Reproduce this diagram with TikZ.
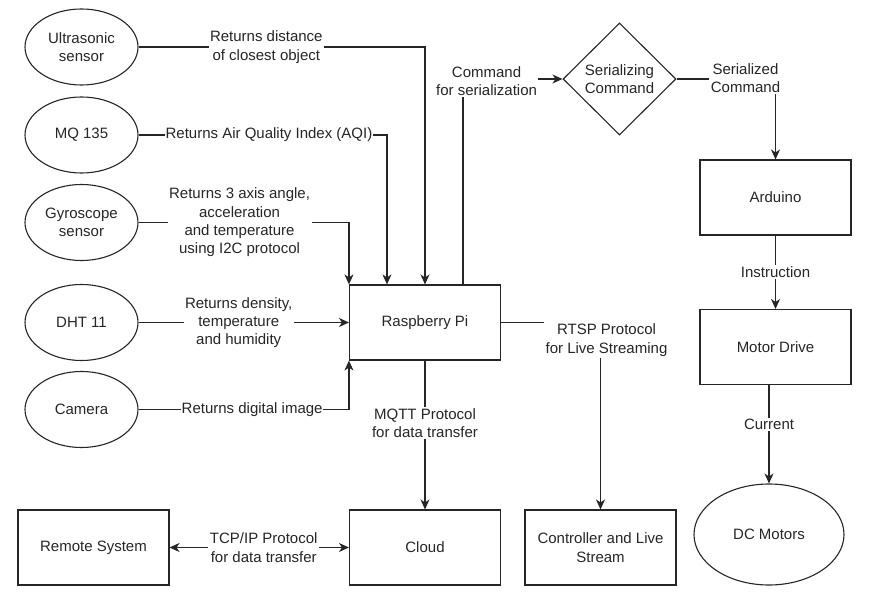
\documentclass[tikz,border=0pt]{standalone}
\usepackage{fontspec}
\setmainfont{Liberation Sans}
\usetikzlibrary{shapes.geometric,arrows.meta,calc}
\begin{document}
\begin{tikzpicture}[x=1pt,y=-1pt,
  every node/.style={font=\fontsize{15}{18.3}\selectfont, text=black!85, align=center},
  shp/.style={draw=black!85, line width=1.1pt, inner sep=0pt},
  ell/.style={shp, ellipse, minimum width=113pt, minimum height=76pt},
  box/.style={shp, rectangle, minimum width=151pt, minimum height=75pt},
  dia/.style={shp, diamond, minimum width=113pt, minimum height=112pt, aspect=1},
  conn/.style={line width=1.1pt, draw=black!85},
  arr/.style={conn, -{Stealth[length=10pt,width=9pt,inset=3pt]}},
  darr/.style={conn, {Stealth[length=10pt,width=9pt,inset=3pt]}-{Stealth[length=10pt,width=9pt,inset=3pt]}},
  lbl/.style={fill=white, inner sep=1.5pt}
]
\useasboundingbox (0,0) rectangle (875,612);

% sensors
\node[ell] (us)  at (81.5,47)    {Ultrasonic\\sensor};
\node[ell] (mq)  at (81.5,135)   {MQ 135};
\node[ell] (gy)  at (81.5,222.5) {Gyroscope\\sensor};
\node[ell] (dht) at (81.5,322.5) {DHT 11};
\node[ell] (cam) at (81.5,409.5) {Camera};

% main boxes
\node[box] (rp)   at (425,322.5)   {Raspberry Pi};
\node[box] (cl)   at (425,547.5)   {Cloud};
\node[box] (rs)   at (93.5,547.5)  {Remote System};
\node[box] (ctl)  at (600.5,547.5) {Controller and Live\\Stream};
\node[dia] (ser)  at (619.5,79)    {Serializing\\Command};
\node[box] (ard)  at (775.5,197.5) {Arduino};
\node[box] (md)   at (775.5,347)   {Motor Drive};
\node[ell, minimum width=150pt, minimum height=101pt] (dcm) at (769,534.5) {DC Motors};

\coordinate (rpA) at ($(rp.north west)!0.5!(rp.north)$);
\coordinate (rpB) at ($(rp.north)!0.5!(rp.north east)$);

% sensor connectors
\draw[arr] (us.east) -- node[lbl,pos=0.446] {Returns distance\\of closest object} (us.east -| rp.north) -- (rp.north);
\draw[arr] (mq.east) -- node[lbl,pos=0.525,inner sep=0.5pt] {Returns Air Quality Index (AQI)} (mq.east -| rpA) -- (rpA);
\draw[arr] (gy.east) -- node[lbl,pos=0.48] {Returns 3 axis angle,\\acceleration\\and temperature\\using I2C protocol} (gy.east -| rp.north west) -- (rp.north west);
\draw[arr] (dht.east) -- node[lbl,pos=0.476] {Returns density,\\temperature\\and humidity} (rp.west);
\draw[arr] (cam.east) -- node[lbl,pos=0.54,inner sep=0.5pt] {Returns digital image} (cam.east -| rp.south west) -- (rp.south west);

% outputs of Raspberry Pi
\draw[arr] (rp.south) -- node[lbl,pos=0.42] {MQTT Protocol\\for data transfer} (cl.north);
\draw[darr] (rs.east) -- node[lbl,pos=0.525] {TCP/IP Protocol\\for data transfer} (cl.west);
\draw[arr] (rp.east) -| node[lbl,pos=0.5,xshift=6pt,yshift=-17.5pt] {RTSP Protocol\\for Live Streaming} (ctl.north);
\draw[arr] (rpB) |- node[lbl,pos=0.5,xshift=23.5pt,yshift=-2pt] {Command\\for serialization} (ser.west);

% right chain
\draw[arr] (ser.east) -| node[lbl,pos=0.5,xshift=-30pt,yshift=1pt] {Serialized\\Command} (ard.north);
\draw[arr] (ard.south) -- node[lbl] {Instruction} (md.north);
\draw[arr] (dcm.north |- md.south) -- node[lbl,pos=0.4] {Current} (dcm.north);
\end{tikzpicture}
\end{document}
